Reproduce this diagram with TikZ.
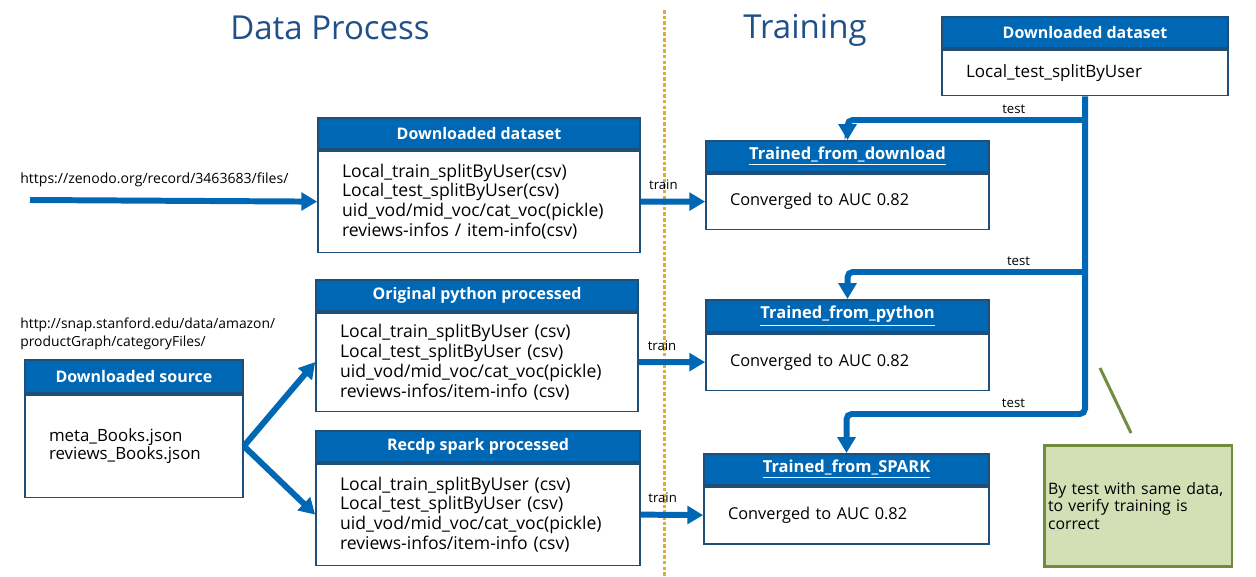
\documentclass[tikz,border=0pt]{standalone}
\usepackage{fontspec}
\setmainfont{Open Sans}
\usepackage{xcolor}
\usetikzlibrary{arrows.meta, positioning}
\definecolor{intelblue}{RGB}{0,103,180}
\definecolor{edgeblue}{RGB}{31,78,121}
\definecolor{titleblue}{RGB}{31,80,135}
\definecolor{sepgold}{RGB}{222,176,40}
\definecolor{notefill}{RGB}{211,223,180}
\definecolor{noteedge}{RGB}{112,140,60}
\newcommand{\bodyfont}{\fontsize{10}{11.3}\selectfont}
\newcommand{\urlfont}{\fontsize{7.9}{10.2}\selectfont}

\begin{document}
\begin{tikzpicture}[x=0.02cm, y=-0.02cm,
    head/.style  = {draw=edgeblue, line width=1pt, fill=intelblue, text=white,
                    anchor=north, inner sep=0pt, minimum height=0.62cm,
                    font=\fontsize{9.1}{10}\selectfont\bfseries},
    body/.style  = {draw=edgeblue, line width=1pt, fill=white, align=left,
                    inner xsep=0.48cm, inner ysep=0pt, font=\bodyfont},
    flow/.style  = {-{Triangle[length=9pt, width=10pt]}, line width=3.4pt,
                    draw=intelblue},
    tst/.style   = {flow, rounded corners=3pt},
    lbl/.style   = {font=\fontsize{7.5}{8}\selectfont, inner sep=2pt},
    title/.style = {font=\fontsize{18.8}{22}\selectfont, text=titleblue},
    note/.style  = {draw=noteedge, line width=1.7pt, fill=notefill, align=left,
                    inner xsep=0.08cm, text width=3.6cm, minimum height=2.42cm,
                    font=\fontsize{9}{10.2}\selectfont}
  ]
  \useasboundingbox (0,0) rectangle (1256,577);

  \node[title] (tdata)  at (330,28) {Data Process};
  \node[title] (ttrain) at (805,30) {Training};
  \draw[sepgold, line width=1.7pt, dash pattern=on 2pt off 1.2pt] (664,10) -- (664,577);

  % data side
  \node[head, minimum width=6.44cm] (ddh) at (479,117) {Downloaded dataset};
  \node[body, below=0pt of ddh, text width=5.48cm, minimum height=2.04cm] (ddb)
    {Local\_train\_splitByUser(csv)\\Local\_test\_splitByUser(csv)\\
     uid\_vod/mid\_voc/cat\_voc(pickle)\\reviews-infos / item-info(csv)};

  \node[head, minimum width=6.44cm] (pyh) at (477,279) {Original python processed};
  \node[body, below=0pt of pyh, text width=5.48cm, minimum height=1.98cm] (pyb)
    {Local\_train\_splitByUser (csv)\\Local\_test\_splitByUser (csv)\\
     uid\_vod/mid\_voc/cat\_voc(pickle)\\reviews-infos/item-info (csv)};

  \node[head, minimum width=6.48cm] (sph) at (478,430) {Recdp spark processed};
  \node[body, below=0pt of sph, text width=5.52cm, minimum height=2.04cm] (spb)
    {Local\_train\_splitByUser (csv)\\Local\_test\_splitByUser (csv)\\
     uid\_vod/mid\_voc/cat\_voc(pickle)\\reviews-infos/item-info (csv)};

  \node[head, minimum width=4.36cm, minimum height=0.66cm] (srch) at (134,359) {Downloaded source};
  \node[body, below=0pt of srch, text width=3.40cm, minimum height=2.06cm,
        font=\fontsize{9.6}{10.2}\selectfont] (srcb)
    {meta\_Books.json\\reviews\_Books.json};

  \node[anchor=west, font=\fontsize{8}{10}\selectfont, inner sep=0pt] (zurl) at (20,180)
    {https://zenodo.org/record/3463683/files/};
  \node[anchor=west, align=left, font=\urlfont, inner sep=0pt] (surl) at (20,334)
    {http://snap.stanford.edu/data/amazon/\\productGraph/categoryFiles/};
  \coordinate (zsrc) at (30,200);

  % training side
  \node[head, minimum width=5.66cm, font=\fontsize{9.4}{10}\selectfont\bfseries] (tr1h)
    at (847.5,140) {\underline{Trained\_from\_download}};
  \node[body, below=0pt of tr1h, text width=4.70cm, minimum height=1.12cm,
        font=\fontsize{9.3}{11}\selectfont] (tr1b) {Converged to AUC 0.82};
  \node[head, minimum width=5.66cm, minimum height=0.64cm, font=\fontsize{9.4}{10}\selectfont\bfseries] (tr2h)
    at (847.5,299) {\underline{Trained\_from\_python}};
  \node[body, below=0pt of tr2h, text width=4.70cm, minimum height=1.14cm,
        font=\fontsize{9.3}{11}\selectfont] (tr2b) {Converged to AUC 0.82};
  \node[head, minimum width=5.70cm, font=\fontsize{9.4}{10}\selectfont\bfseries] (tr3h)
    at (846.5,453) {\underline{Trained\_from\_SPARK}};
  \node[body, below=0pt of tr3h, text width=4.74cm, minimum height=1.14cm,
        font=\fontsize{9.3}{11}\selectfont] (tr3b) {Converged to AUC 0.82};

  \node[head, minimum width=5.72cm] (dsh) at (1085,16) {Downloaded dataset};
  \node[body, below=0pt of dsh, text width=4.76cm, minimum height=0.92cm,
        font=\fontsize{9.7}{11}\selectfont] (dsb) {Local\_test\_splitByUser};

  \node[note] (note) at (1138,506) {By test with same data,\\to verify training is\\correct};
  \coordinate (cl1) at (1100,368);
  \coordinate (cl2) at (1131,433);
  \draw[noteedge, line width=1.7pt] (cl1) -- (cl2);

  % connectors
  \draw[flow] (zsrc) -- (ddb.west);
  \draw[flow] (srcb.east) -- (pyb.west);
  \draw[flow] (srcb.east) -- (spb.west);
  \draw[flow] (ddb.east) -- node[lbl, above=3pt, pos=0.35]{train} (tr1b.west);
  \draw[flow] (pyb.east) -- node[lbl, above=3pt, pos=0.35]{train} (tr2b.west);
  \draw[flow] (spb.east) -- node[lbl, above=3pt, pos=0.35]{train} (tr3b.west);

  \coordinate (j1) at (1085,120);
  \coordinate (j2) at (1085,272);
  \coordinate (j3) at (1085,414);
  \draw[tst] (dsb.south) -- (j3) -| node[lbl, above, pos=0.15]{test} (tr3h.north);
  \draw[tst] (j1) -| node[lbl, above, pos=0.15]{test} (tr1h.north);
  \draw[tst] (j2) -| node[lbl, above, pos=0.14]{test} (tr2h.north);
\end{tikzpicture}
\end{document}
